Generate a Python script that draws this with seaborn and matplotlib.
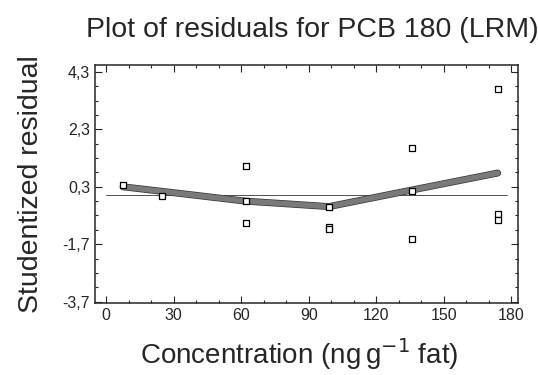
import matplotlib
matplotlib.use("Agg")
import matplotlib.pyplot as plt
import matplotlib.patheffects as pe
import pandas as pd
import seaborn as sns
from matplotlib.ticker import MultipleLocator, FixedLocator

sns.set_style("ticks")
plt.rcParams["font.family"] = ["Liberation Sans", "DejaVu Sans"]

# ── data ─────────────────────────────────────────────────────────────────────
conc = [7.5, 25, 62, 62, 62, 99, 99, 99, 136, 136, 136, 174, 174, 174]
resid = [0.36, -0.02, 1.02, -0.20, -0.96, -1.09, -1.17, -0.39,
         1.65, 0.15, -1.52, 3.70, -0.65, -0.86]

trend_x = [7.5, 62, 99, 136, 174]
trend_y = [0.30, -0.20, -0.39, 0.19, 0.78]

zero_x = [0, 178]
zero_y = [0.0, 0.0]

yticks = [-3.7, -1.7, 0.3, 2.3, 4.3]
ytick_labels = ["-3,7", "-1,7", "0,3", "2,3", "4,3"]
xticks = [0, 30, 60, 90, 120, 150, 180]

pts = pd.DataFrame({"conc": conc, "resid": resid})
trend = pd.DataFrame({"x": trend_x, "y": trend_y})

fig = plt.figure(figsize=(5.38, 3.75), dpi=100)
ax = fig.add_axes([0.1766, 0.192, 0.786, 0.635])

ax.plot(zero_x, zero_y, color="#333333", lw=0.6)
sns.lineplot(data=trend, x="x", y="y", ax=ax, color="#7a7a7a", lw=4,
             path_effects=[pe.Stroke(linewidth=5, foreground="#333333"), pe.Normal()])
sns.scatterplot(data=pts, x="conc", y="resid", ax=ax, marker="s", s=16,
                facecolor="white", edgecolor="black", linewidth=0.9, zorder=5)

ax.set_xlim(-5, 183)
ax.set_ylim(-3.75, 4.55)
ax.set_xticks(xticks)
ax.xaxis.set_minor_locator(MultipleLocator(10))
ax.set_yticks(yticks)
ax.set_yticklabels(ytick_labels)
ax.yaxis.set_minor_locator(FixedLocator([-3.7 + 0.5 * i for i in range(17)]))
ax.tick_params(which="both", direction="in", top=True, right=True, labelsize=11.5)
ax.tick_params(which="major", length=5, width=0.8)
ax.tick_params(which="minor", length=2.5, width=0.8)
for s in ax.spines.values():
    s.set_linewidth(1.1)

ax.set_xlabel(r"Concentration (ng$\,$g$^{-1}$ fat)", fontsize=20)
ax.xaxis.set_label_coords(0.482, -0.14)
ax.set_ylabel("Studentized residual", fontsize=20.5)
ax.yaxis.set_label_coords(-0.12, 0.5)
fig.text(86 / 538, 1 - 30 / 375, "Plot of residuals for PCB 180 (LRM)",
         fontsize=20.5, ha="left", va="center")

fig.savefig("out.png", dpi=100)
